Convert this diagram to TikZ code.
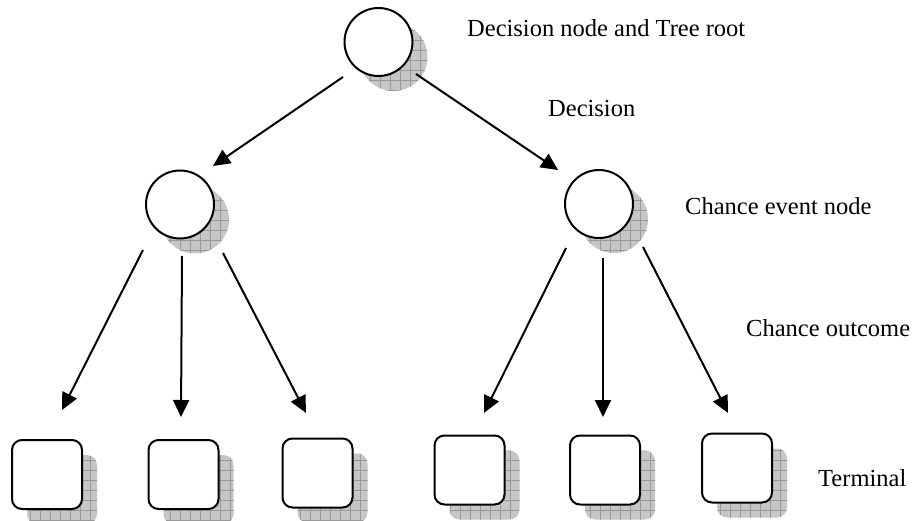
\documentclass[tikz,border=0pt]{standalone}
\usepackage{fontspec}
\setmainfont{Liberation Serif}
\usetikzlibrary{calc,arrows.meta}
\pgfdeclarelayer{background}
\pgfsetlayers{background,main}
\tikzset{
  chancenode/.style={circle, draw, line width=2pt, fill=white, minimum size=68pt, inner sep=0pt, outer sep=0pt},
  termnode/.style={draw, line width=2pt, fill=white, rounded corners=10pt, minimum width=70pt, minimum height=69pt, inner sep=0pt, outer sep=0pt},
  arr/.style={line width=2pt, -{Triangle[length=17pt,width=16pt]}},
  shfill/.style={fill=gray!45},
  shgrid/.style={draw=black!40, line width=0.6pt},
  lbl/.style={anchor=base west, inner sep=0pt, font=\fontsize{24.5}{29}\selectfont}
}
\newcommand\circshadow[1]{%
  \begin{scope}
    \clip ($(#1)+(15,15)$) circle (34pt);
    \fill[shfill] ($(#1)+(-25,-25)$) rectangle ($(#1)+(55,55)$);
    \draw[shgrid, step=10pt] ($(#1)+(-25,55)$) grid ($(#1)+(55,-25)$);
  \end{scope}}
\newcommand\boxshadow[1]{%
  \begin{scope}
    \clip[rounded corners=10pt] ($(#1.north west)+(15,15)$) rectangle ($(#1.south east)+(15,15)$);
    \fill[shfill] ($(#1)+(-40,-40)$) rectangle ($(#1)+(60,60)$);
    \draw[shgrid, step=10pt] ($(#1)+(-40,60)$) grid ($(#1)+(60,-40)$);
  \end{scope}}
\begin{document}
\begin{tikzpicture}[x=1pt, y=-1pt]
\useasboundingbox (0,0) rectangle (916,521);
% nodes
\node[chancenode] (r) at (378.5,42) {};
\node[chancenode] (c1) at (180,204.5) {};
\node[chancenode] (c2) at (599,204) {};
\node[termnode] (t1) at (47,474.5) {};
\node[termnode] (t2) at (183.5,474.5) {};
\node[termnode] (t3) at (317.5,473) {};
\node[termnode] (t4) at (469.5,470) {};
\node[termnode] (t5) at (605,470) {};
\node[termnode] (t6) at (737,468) {};
% shadows
\begin{pgfonlayer}{background}
  \circshadow{r}\circshadow{c1}\circshadow{c2}
  \boxshadow{t1}\boxshadow{t2}\boxshadow{t3}
  \boxshadow{t4}\boxshadow{t5}\boxshadow{t6}
\end{pgfonlayer}
% connectors
\draw[arr] ($(r)+(-35.5,35)$) -- ($(c1)+(33,-38.5)$);
\draw[arr] ($(r)+(37.5,32)$) -- ($(c2)+(-41,-34)$);
\draw[arr] ($(c1)+(-37,45.5)$) -- ($(t1)+(15,-64.5)$);
\draw[arr] ($(c1)+(2,51.5)$) -- ($(t2)+(-2.5,-57.5)$);
\draw[arr] ($(c1)+(43,48.5)$) -- ($(t3)+(-11.5,-60)$);
\draw[arr] ($(c2)+(-33,44)$) -- ($(t4)+(14.5,-57)$);
\draw[arr] ($(c2)+(4,54)$) -- ($(t5)+(-2,-53)$);
\draw[arr] ($(c2)+(44,43)$) -- ($(t6)+(-9,-55)$);
% labels
\node[lbl] (l1) at (467,37) {Decision node and Tree root};
\node[lbl] (l2) at (548,117) {Decision};
\node[lbl] (l3) at (685,215) {Chance event node};
\node[lbl] (l4) at (746,337) {Chance outcome};
\node[lbl] (l5) at (818,486) {Terminal};
\end{tikzpicture}
\end{document}
